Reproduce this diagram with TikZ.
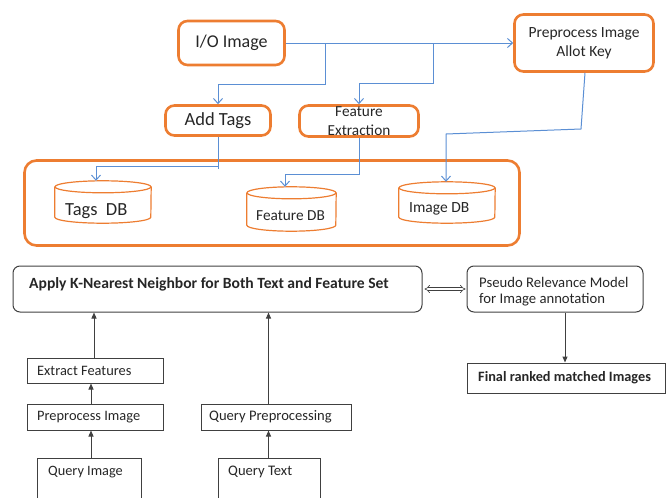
\documentclass[tikz,border=0pt]{standalone}
\usepackage{fontspec}
\setmainfont{Carlito}
\usetikzlibrary{arrows.meta}
\definecolor{org}{HTML}{ED7D31}
\definecolor{blu}{HTML}{5B8FD4}
\definecolor{drk}{HTML}{404040}
\definecolor{txt}{HTML}{262626}
\newcommand\fs[2]{\fontsize{#1}{#2}\selectfont}
\begin{document}
\begin{tikzpicture}[x=1pt,y=-1pt,
  every node/.style={text=txt},
  obox/.style={draw=org, line width=2.6pt, rounded corners=9pt, inner sep=0pt, align=center},
  cylnode/.style={inner sep=0pt},
  cyl/.style={draw=org, line width=1.2pt},
  bline/.style={draw=blu, line width=1pt},
  barrow/.style={bline, -{Straight Barb[length=5pt,width=9pt]}},
  kbox/.style={draw=drk, line width=1pt, inner sep=0pt},
  karrow/.style={draw=drk, line width=1pt, -{Triangle[length=6pt,width=5pt]}},
  lbl/.style={anchor=west, inner sep=0pt, align=left},
]
\useasboundingbox (0,0) rectangle (667,498);

% ---------- top part ----------
\node[obox, minimum width=106pt, minimum height=44pt, font=\fs{18}{20}] (io) at (231.5,43) {I/O Image};
\node[obox, minimum width=139pt, minimum height=57pt, font=\fs{15.5}{19}] (pp) at (584,43) {Preprocess Image\\Allot Key};
\node[obox, minimum width=105pt, minimum height=30pt, font=\fs{18.5}{20}] (tags) at (218,120.5) {Add Tags};
\node[obox, minimum width=119pt, minimum height=31pt, font=\fs{15.3}{19}] (fe) at (359,121) {Feature\\Extraction};
\node[draw=org, line width=2.6pt, rounded corners=12pt, minimum width=495pt, minimum height=85pt, inner sep=0pt] (store) at (272,203) {};

% cylinders
\node[cylnode, minimum width=96pt, minimum height=42pt] (tagsdb) at (103,202) {};
\node[cylnode, minimum width=89pt, minimum height=44pt] (featdb) at (291.5,209) {};
\node[cylnode, minimum width=96pt, minimum height=41pt] (imgdb) at (447,202.5) {};
\foreach \n/\r in {tagsdb/48, featdb/44.5, imgdb/48}{
  \draw[cyl] ([yshift=-6pt]\n.north west) -- ([yshift=6pt]\n.south west)
     arc[start angle=180, end angle=360, x radius=\r pt, y radius=6pt]
     -- ([yshift=-6pt]\n.north east);
  \draw[cyl] ([yshift=-6pt]\n.north) ellipse[x radius=\r pt, y radius=6pt];
}
\node[lbl, font=\fs{18.5}{20}] (tagstxt) at (65,211) {Tags\ \ DB};
\node[lbl, font=\fs{15.3}{17}] (feattxt) at (256,216) {Feature DB};
\node[lbl, font=\fs{15.5}{17}] (imgtxt) at (409,209) {Image DB};

% blue connectors
\coordinate (b1) at (325,43);
\coordinate (b2) at (433,43);
\draw[barrow] (io.east) -- (pp.west);
\draw[barrow] (b1) -- (325,84) -| (tags.north);
\draw[barrow] (b2) -- (433,83.5) -| (fe.north);
\coordinate (t1) at (218,166);
\draw[bline] (tags.south) -- (218,169);
\draw[barrow] (t1) -| ([xshift=-7pt]tagsdb.north);
\draw[barrow] (fe.south) -- (359,174) -| ([xshift=-6.5pt]featdb.north);
\draw[barrow] ([xshift=1pt]pp.south) -- (581,129) -- (446,134) -- ([xshift=-1pt]imgdb.north);

% ---------- bottom part ----------
\node[kbox, rounded corners=7pt, minimum width=409pt, minimum height=46pt] (knn) at (217.5,289) {};
\node[lbl, font=\bfseries\fs{15.6}{17}] (knntxt) at (29,284) {Apply K-Nearest Neighbor for Both Text and Feature Set};
\node[kbox, rounded corners=7pt, minimum width=176pt, minimum height=46pt] (pseudo) at (555,289) {};
\node[lbl, font=\fs{14.7}{16}] (pseudotxt) at (479,292) {Pseudo Relevance Model\\for Image annotation};
\node[kbox, minimum width=198pt, minimum height=30pt] (final) at (566,378) {};
\node[lbl, font=\bfseries\fs{14.3}{16}] (finaltxt) at (478,378) {Final ranked matched Images};

\node[kbox, minimum width=136pt, minimum height=25pt] (extract) at (95,370.5) {};
\node[lbl, font=\fs{14.4}{16}] (extracttxt) at (37,370.5) {Extract Features};
\node[kbox, minimum width=136pt, minimum height=26pt] (pre2) at (95,417) {};
\node[lbl, font=\fs{14.4}{16}] (pre2txt) at (37,417) {Preprocess Image};
\node[kbox, minimum width=150pt, minimum height=26pt] (qprep) at (276,417) {};
\node[lbl, font=\fs{14.6}{16}] (qpreptxt) at (209,417) {Query Preprocessing};

\node[inner sep=0pt, minimum width=103pt, minimum height=39pt] (qimg) at (89.5,478.5) {};
\node[inner sep=0pt, minimum width=101pt, minimum height=39pt] (qtext) at (269.5,478.5) {};
\draw[drk, line width=1pt] (qimg.south west) -- (qimg.north west) -- (qimg.north east) -- (qimg.south east);
\draw[drk, line width=1pt] (qtext.south west) -- (qtext.north west) -- (qtext.north east) -- (qtext.south east);
\node[lbl, font=\fs{14.3}{16}] (qimgtxt) at (48,472) {Query Image};
\node[lbl, font=\fs{14.6}{16}] (qtexttxt) at (228,472) {Query Text};

% black connectors
\draw[karrow] ([xshift=-1pt]extract.north) -- ([xshift=-1pt]extract.north |- knn.south);
\draw[karrow] ([xshift=-4pt]pre2.north) -- ([xshift=-4pt]pre2.north |- extract.south);
\draw[karrow] ([xshift=1.5pt]qimg.north) -- ([xshift=1.5pt]qimg.north |- pre2.south);
\draw[karrow] ([xshift=-1pt]qtext.north) -- ([xshift=-1pt]qtext.north |- qprep.south);
\draw[karrow] ([xshift=-1pt]qtext.north |- qprep.north) -- ([xshift=-1pt]qtext.north |- knn.south);
\draw[karrow] ([xshift=10pt]pseudo.south) -- ([xshift=10pt]pseudo.south |- final.north);
\draw[drk, line width=0.6pt, double=white, double distance=2.2pt, {Implies}-{Implies}] ([xshift=2pt]knn.east) -- ([xshift=-1pt]pseudo.west);
\end{tikzpicture}
\end{document}
